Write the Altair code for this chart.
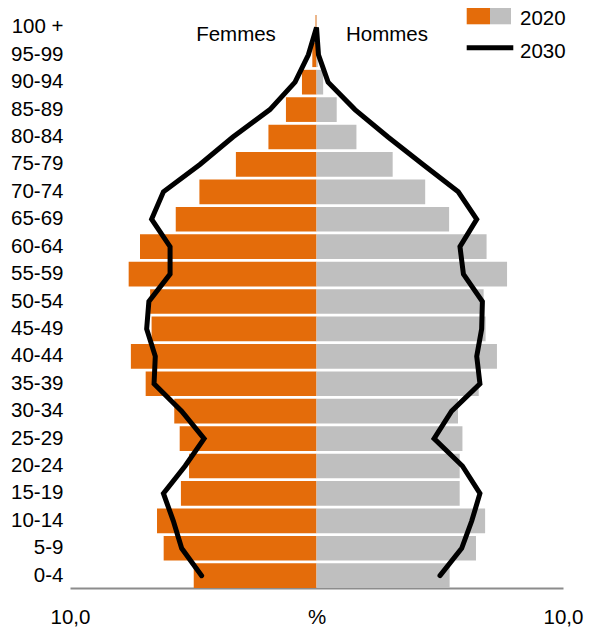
import altair as alt
import pandas as pd

ages = ["0-4", "5-9", "10-14", "15-19", "20-24", "25-29", "30-34", "35-39", "40-44",
        "45-49", "50-54", "55-59", "60-64", "65-69", "70-74", "75-79", "80-84",
        "85-89", "90-94", "95-99", "100 +"]
women_2020 = [4.98, 6.20, 6.47, 5.50, 5.17, 5.55, 5.77, 6.93, 7.53, 6.69, 6.75,
              7.62, 7.16, 5.71, 4.75, 3.27, 1.95, 1.24, 0.59, 0.17, 0.04]
men_2020 = [5.40, 6.47, 6.84, 5.81, 5.81, 5.92, 5.74, 6.58, 7.32, 6.86, 6.78,
            7.73, 6.90, 5.38, 4.41, 3.09, 1.62, 0.82, 0.27, 0.05, 0.01]
women_2030 = [4.66, 5.47, 5.81, 6.21, 5.33, 4.56, 5.47, 6.59, 6.54, 6.89, 6.80,
              5.94, 5.94, 6.69, 6.21, 4.73, 3.39, 1.89, 0.87, 0.33, 0.0]
men_2030 = [5.01, 5.89, 6.30, 6.63, 5.92, 4.77, 5.48, 6.63, 6.50, 6.70, 6.73,
            5.96, 5.82, 6.50, 5.75, 4.32, 2.90, 1.56, 0.47, 0.08, 0.0]

ORANGE = "#E46C0A"
GREY = "#BFBFBF"
FONT = "Liberation Sans"
FS = 20.5

bars = pd.DataFrame(
    [{"age": a, "value": -w, "sex": "Femmes"} for a, w in zip(ages, women_2020)]
    + [{"age": a, "value": m, "sex": "Hommes"} for a, m in zip(ages, men_2020)]
)

# 2030 outline: women from bottom to top, then men from top to bottom
line_rows = []
k = 0
for a, w in zip(ages, women_2030):
    line_rows.append({"age": a, "value": -w, "ord": k}); k += 1
for a, m in list(zip(ages, men_2030))[::-1][1:]:
    line_rows.append({"age": a, "value": m, "ord": k}); k += 1
line_df = pd.DataFrame(line_rows)

y_sort = ages[::-1]
y_enc = alt.Y("age:N", sort=y_sort,
              scale=alt.Scale(paddingInner=0.1, paddingOuter=0.0),
              axis=alt.Axis(title=None, domain=False, ticks=False, labelPadding=7,
                            labelFontSize=FS, labelFont=FONT, labelColor="#000000"))
x_scale = alt.Scale(domain=[-10, 10], nice=False, zero=False)
x_axis = alt.Axis(title=None, values=[-10, 0, 10], grid=False, ticks=False,
                  domainColor="#8C8C8C", domainWidth=2, labelPadding=19,
                  labelFlush=False, labelBound=False,
                  labelFontSize=FS, labelFont=FONT, labelColor="#000000",
                  labelExpr="datum.value == 0 ? '%' : '10,0'")

bar_layer = alt.Chart(bars).mark_bar().encode(
    x=alt.X("value:Q", scale=x_scale, axis=x_axis),
    y=y_enc,
    color=alt.Color("sex:N", scale=alt.Scale(domain=["Femmes", "Hommes"], range=[ORANGE, GREY]), legend=None),
)

line_layer = alt.Chart(line_df).mark_line(color="black", strokeWidth=5, strokeCap="round", strokeJoin="miter").encode(
    x=alt.X("value:Q", scale=x_scale),
    y=alt.Y("age:N", sort=y_sort),
    order="ord:Q",
)

one = pd.DataFrame({"a": [0]})

def label(txt, x, y, align="left"):
    return alt.Chart(one).mark_text(font=FONT, fontSize=FS, color="#000000", align=align,
                                    baseline="alphabetic").encode(
        x=alt.value(x), y=alt.value(y), text=alt.value(txt))

femmes = label("Femmes", 166, 26, "center")
hommes = label("Hommes", 317, 26, "center")

leg_or = alt.Chart(one).mark_rect(color=ORANGE).encode(
    x=alt.value(396.7), x2=alt.value(420), y=alt.value(-7), y2=alt.value(9.3))
leg_gr = alt.Chart(one).mark_rect(color=GREY).encode(
    x=alt.value(420), x2=alt.value(441), y=alt.value(-7), y2=alt.value(9.3))
leg_line = alt.Chart(one).mark_rule(color="black", strokeWidth=5).encode(
    x=alt.value(396.7), x2=alt.value(443.3), y=alt.value(32.7))
leg_t1 = label("2020", 450, 10)
leg_t2 = label("2030", 450, 43.3)

chart = alt.layer(bar_layer, line_layer, femmes, hommes, leg_or, leg_gr, leg_line, leg_t1, leg_t2).properties(
    width=493, height=573,
    autosize=alt.AutoSizeParams(type="none"),
    padding={"left": 62, "top": 7, "right": 30, "bottom": 46},
).configure_view(stroke=None)

chart.save("out.html", embed_options={"renderer": "svg", "actions": False})
